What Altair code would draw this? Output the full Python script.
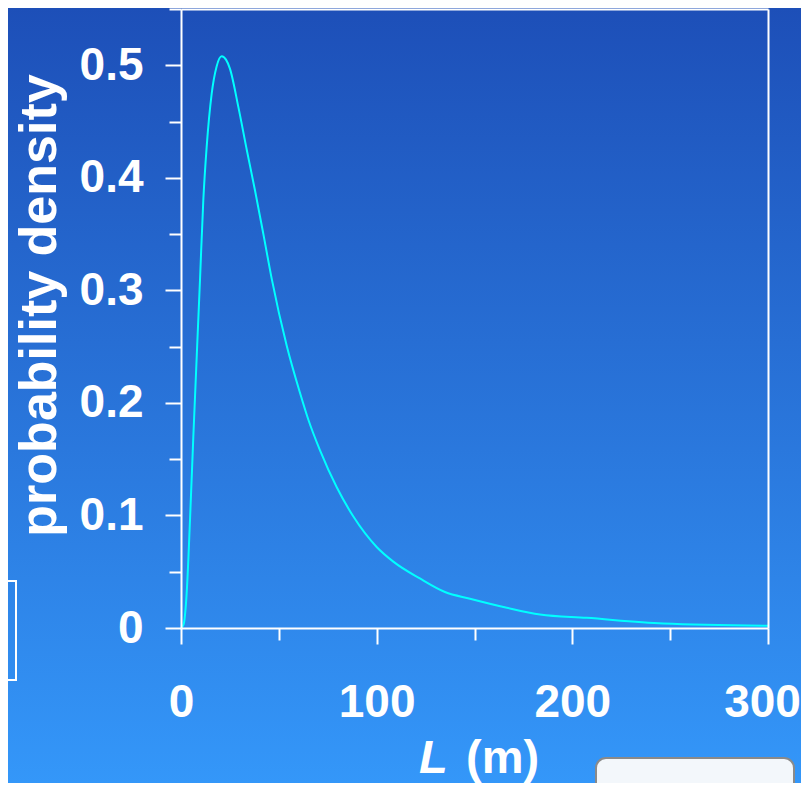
import altair as alt
import pandas as pd

# ---- data ----
L_m = [0, 1.3, 2.9, 4.6, 6.3, 9.7, 11.4, 13.1, 15.7, 18.2, 20.8, 23.0, 25.0, 29.3, 33.6,
       37.8, 42.1, 46.4, 54.0, 60.8, 65.1, 71.0, 79.6, 88.1, 100.0, 108.5, 122.1,
       134.9, 147.7, 166.5, 183.5, 207.3, 246.5, 300]
density = [0, 0.003, 0.031, 0.096, 0.170, 0.309, 0.380, 0.427, 0.475, 0.499, 0.508,
           0.505, 0.497, 0.463, 0.425, 0.389, 0.350, 0.310, 0.251, 0.209, 0.185, 0.158,
           0.125, 0.099, 0.072, 0.059, 0.044, 0.032, 0.026, 0.018, 0.012, 0.009,
           0.004, 0.002]
x_ticks = [0, 50, 100, 150, 200, 250, 300]
y_ticks = [0, 0.05, 0.1, 0.15, 0.2, 0.25, 0.3, 0.35, 0.4, 0.45, 0.5, 0.55]
y_title = "probability density"

df = pd.DataFrame({"L": L_m, "density": density})

FONT = "Liberation Sans"
W, H = 587, 619
PAD = {"left": 173, "top": 1, "right": 33, "bottom": 155}

x_scale = alt.Scale(domain=[0, 300], nice=False, zero=False)
y_scale = alt.Scale(domain=[0, 0.55], nice=False, zero=False)

single = alt.Data(values=[{"a": 1}])

# gradient background over the whole chart
bg = alt.Chart(single).mark_rect(
    color=alt.Gradient(
        gradient="linear",
        stops=[alt.GradientStop(color="#1D4FB8", offset=0),
               alt.GradientStop(color="#3497F9", offset=1)],
        x1=0, x2=0, y1=0, y2=1,
    )
).encode(
    x=alt.value(-PAD["left"]), x2=alt.value(W + PAD["right"]),
    y=alt.value(-PAD["top"]), y2=alt.value(H + PAD["bottom"]),
)

# slide leftovers: outline box at left, button at bottom right
left_box = alt.Chart(single).mark_rect(
    fill="transparent", stroke="white", strokeWidth=2
).encode(
    x=alt.value(-200), x2=alt.value(-165), y=alt.value(572), y2=alt.value(671)
)
button = alt.Chart(single).mark_rect(
    fill="#F3F7FB", stroke="#8A8A8A", strokeWidth=2, cornerRadius=10
).encode(
    x=alt.value(415), x2=alt.value(613), y=alt.value(749), y2=alt.value(800)
)

x_axis = alt.Axis(
    values=x_ticks,
    labelExpr="datum.value % 100 === 0 ? datum.label : ''",
    tickSize={"condition": {"test": "datum.value % 100 === 0", "value": 16}, "value": 12},
    labelOffset={"condition": {"test": "datum.value === 300", "value": -6}, "value": 0},
    tickColor="white", tickWidth=2, domainColor="white", domainWidth=2,
    labelColor="white", labelFont=FONT, labelFontSize=46, labelFontWeight="bold",
    labelPadding=36, labelFlush=False, labelOverlap=False,
    grid=False, title=None, zindex=2,
)
y_axis = alt.Axis(
    values=y_ticks,
    labelExpr="abs(round(datum.value*10) - datum.value*10) < 0.001 ? format(datum.value, '.1~f') : ''",
    tickSize={"condition": {"test": "abs(round(datum.value*10) - datum.value*10) < 0.001", "value": 16}, "value": 12},
    tickColor="white", tickWidth=2, domainColor="white", domainWidth=2,
    labelColor="white", labelFont=FONT, labelFontSize=46, labelFontWeight="bold",
    labelPadding=22, labelFlush=False, labelOverlap=False, labelBaseline="middle",
    grid=False, title=y_title, titleColor="white", titleFont=FONT,
    titleFontSize=52, titleFontWeight="bold", titleX=-126, titleY=296,
    titleAngle=270, titleAlign="center", titleBaseline="alphabetic", zindex=2,
)

curve = alt.Chart(df).mark_line(
    color="#00FFFF", strokeWidth=2, interpolate="monotone"
).encode(
    x=alt.X("L:Q", scale=x_scale, axis=x_axis),
    y=alt.Y("density:Q", scale=y_scale, axis=y_axis),
)

frame = alt.Chart(df).mark_line(opacity=0).encode(
    x=alt.X("L:Q", scale=x_scale, axis=alt.Axis(
        orient="top", labels=False, ticks=False, domainColor="white",
        domainWidth=2, grid=False, title=None, zindex=2)),
    y=alt.Y("density:Q", scale=y_scale, axis=alt.Axis(
        orient="right", labels=False, ticks=False, domainColor="white",
        domainWidth=2, grid=False, title=None, zindex=2)),
)

t_L = alt.Chart(single).mark_text(
    text="L", font=FONT, fontSize=47, fontWeight="bold", fontStyle="italic",
    color="white", align="left", baseline="alphabetic",
).encode(x=alt.value(238), y=alt.value(764))
t_m = alt.Chart(single).mark_text(
    text="(m)", font=FONT, fontSize=47, fontWeight="bold",
    color="white", align="left", baseline="alphabetic",
).encode(x=alt.value(285), y=alt.value(764))

chart = alt.layer(bg, left_box, button, curve, frame, t_L, t_m).resolve_axis(
    x="independent", y="independent"
).properties(
    width=W, height=H, padding=PAD, autosize=alt.AutoSizeParams(type="none"),
).configure_view(strokeWidth=0)

chart.save("out.html", embed_options={"renderer": "svg", "actions": False})
